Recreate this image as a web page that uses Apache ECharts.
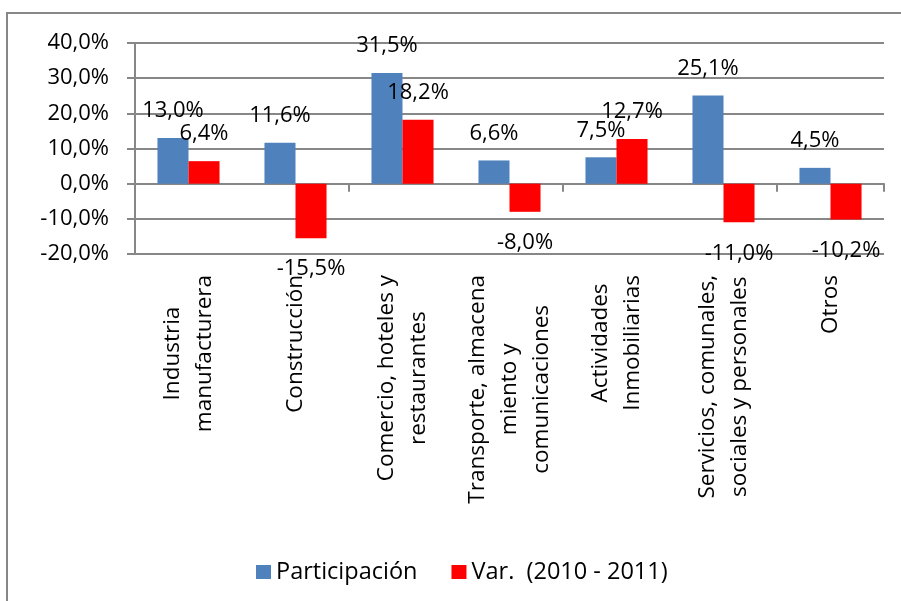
<!DOCTYPE html>
<html>
<head>
<meta charset="utf-8">
<script src="https://cdn.jsdelivr.net/npm/echarts@6/dist/echarts.min.js"></script>
<style>
  html, body { margin: 0; padding: 0; background: #fff; }
  #chart { width: 901px; height: 601px; }
</style>
</head>
<body>
<div id="chart"></div>
<script>
// categorias (con saltos de linea como en el original)
const categories = [
  "Industria\nmanufacturera",
  "Construcción",
  "Comercio, hoteles y\nrestaurantes",
  "Transporte, almacena\nmiento y\ncomunicaciones",
  "Actividades\nInmobiliarias",
  "Servicios, comunales,\nsociales y personales",
  "Otros"
];
const participacion = [13.0, 11.6, 31.5, 6.6, 7.5, 25.1, 4.5];
const variacion = [6.4, -15.5, 18.2, -8.0, 12.7, -11.0, -10.2];
const seriesNames = ["Participación", "Var.  (2010 - 2011)"];
const yTicks = { min: -20, max: 40, interval: 10 };

const FONT = "Open Sans";
const GRAY = "#878787";

function pct(v) {
  return v.toFixed(1).replace(".", ",") + "%";
}

// etiqueta encima o debajo segun el signo
function withLabels(values) {
  return values.map(function (v) {
    return {
      value: v,
      label: {
        position: v < 0 ? "bottom" : "top",
        distance: v < 0 ? 20 : 16
      }
    };
  });
}

const chart = echarts.init(document.getElementById("chart"));

const dataLabel = {
  show: true,
  color: "#000",
  fontFamily: FONT,
  fontSize: 22,
  formatter: function (p) { return pct(p.value); }
};

chart.setOption({
  animation: false,
  graphic: [{
    type: "rect",
    shape: { x: 7, y: 13, width: 1000, height: 1000 },
    style: { fill: "none", stroke: GRAY, lineWidth: 2 },
    silent: true
  }],
  grid: { left: 135, right: 17, top: 43, bottom: 347 },
  legend: {
    left: 251,
    top: 555,
    itemWidth: 15,
    itemHeight: 14,
    itemGap: 34,
    icon: "rect",
    textStyle: { fontFamily: FONT, fontSize: 23.5, color: "#000" },
    data: seriesNames
  },
  xAxis: [
    {
      type: "category",
      data: categories,
      axisLine: { onZero: true, lineStyle: { color: GRAY, width: 2 } },
      axisTick: { show: true, length: 8, lineStyle: { color: GRAY, width: 2 } },
      axisLabel: { show: false }
    },
    {
      type: "category",
      data: categories,
      position: "bottom",
      axisLine: { show: false, onZero: false },
      axisTick: { show: false },
      axisLabel: {
        interval: 0,
        rotate: 90,
        margin: 21,
        color: "#000",
        formatter: function (v) {
          return v.split("\n").map(function (l) { return "{c|" + l + "}"; }).join("\n");
        },
        rich: {
          c: { align: "center", fontFamily: FONT, fontSize: 22.5, lineHeight: 32, color: "#000" }
        }
      }
    }
  ],
  yAxis: {
    type: "value",
    min: yTicks.min,
    max: yTicks.max,
    interval: yTicks.interval,
    axisLine: { show: true, lineStyle: { color: GRAY, width: 2 } },
    axisTick: { show: true, length: 8, lineStyle: { color: GRAY, width: 2 } },
    splitLine: { lineStyle: { color: GRAY, width: 2 } },
    axisLabel: {
      margin: 26,
      color: "#000",
      fontFamily: FONT,
      fontSize: 22,
      formatter: function (v) { return pct(v); }
    }
  },
  series: [
    {
      name: seriesNames[0],
      type: "bar",
      xAxisIndex: 0,
      barGap: "0%",
      barCategoryGap: "42%",
      itemStyle: { color: "#4F81BD" },
      label: dataLabel,
      data: withLabels(participacion)
    },
    {
      name: seriesNames[1],
      type: "bar",
      xAxisIndex: 0,
      itemStyle: { color: "#FF0000" },
      label: dataLabel,
      data: withLabels(variacion)
    }
  ]
});
</script>
</body>
</html>
